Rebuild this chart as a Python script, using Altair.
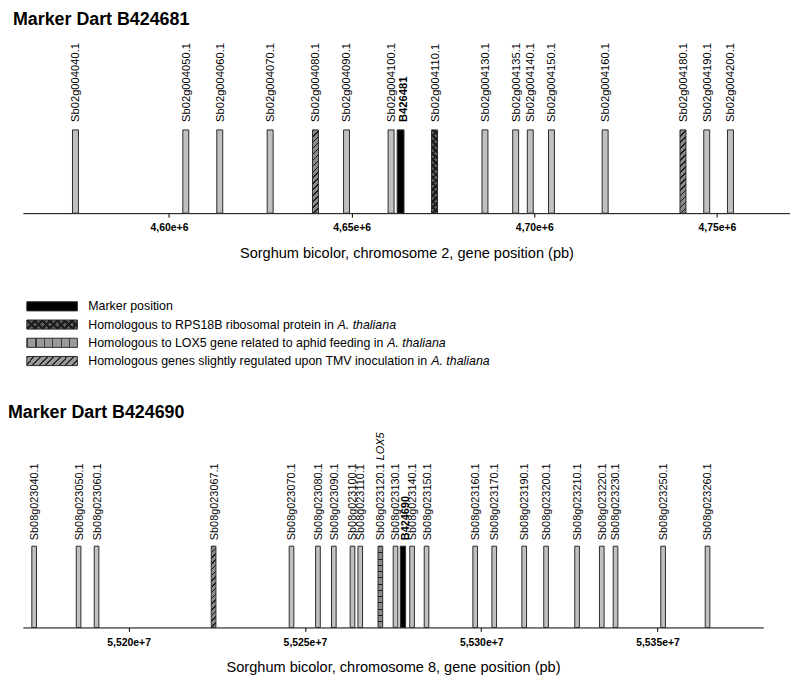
import altair as alt
import pandas as pd

FONT = "Liberation Sans, Arial, Helvetica, sans-serif"

# ---------------- data ----------------
top_title = "Marker Dart B424681"
top_genes = ["Sb02g004040.1", "Sb02g004050.1", "Sb02g004060.1", "Sb02g004070.1",
             "Sb02g004080.1", "Sb02g004090.1", "Sb02g004100.1", "B426481",
             "Sb02g004110.1", "Sb02g004130.1", "Sb02g004135.1", "Sb02g004140.1",
             "Sb02g004150.1", "Sb02g004160.1", "Sb02g004180.1", "Sb02g004190.1",
             "Sb02g004200.1"]
top_pos = [4574400, 4604600, 4613900, 4627700, 4640100, 4648600, 4660800, 4663400,
           4672700, 4686500, 4694900, 4698900, 4704700, 4719400, 4740700, 4747200,
           4753700]
top_type = ["gene", "gene", "gene", "gene", "tmv", "gene", "gene", "marker",
            "rps18b", "gene", "gene", "gene", "gene", "gene", "tmv", "gene", "gene"]
top_note = [""] * 17

bottom_title = "Marker Dart B424690"
bottom_genes = ["Sb08g023040.1", "Sb08g023050.1", "Sb08g023060.1", "Sb08g023067.1",
                "Sb08g023070.1", "Sb08g023080.1", "Sb08g023090.1", "Sb08g023100.1",
                "Sb08g023110.1", "Sb08g023120.1", "Sb08g023130.1", "B424690",
                "Sb08g023140.1", "Sb08g023150.1", "Sb08g023160.1", "Sb08g023170.1",
                "Sb08g023190.1", "Sb08g023200.1", "Sb08g023210.1", "Sb08g023220.1",
                "Sb08g023230.1", "Sb08g023250.1", "Sb08g023260.1"]
bottom_pos = [55173200, 55185800, 55190900, 55224100, 55246200, 55253700, 55258200,
              55263500, 55265700, 55271400, 55275700, 55277800, 55280400, 55284500,
              55298300, 55303700, 55312200, 55318400, 55327200, 55334200, 55338100,
              55351600, 55364200]
bottom_type = ["gene", "gene", "gene", "tmv", "gene", "gene", "gene", "gene", "gene",
               "lox5", "gene", "marker", "gene", "gene", "gene", "gene", "gene", "gene",
               "gene", "gene", "gene", "gene", "gene"]
bottom_note = [""] * 9 + ["LOX5"] + [""] * 13

top_ticks = [4.60e6, 4.65e6, 4.70e6, 4.75e6]
bottom_ticks = [5.520e7, 5.525e7, 5.530e7, 5.535e7]

legend_keys = ["marker", "rps18b", "lox5", "tmv"]
legend_text = ["Marker position",
               "Homologous to RPS18B ribosomal protein in",
               "Homologous to LOX5 gene related to aphid feeding in",
               "Homologous genes slightly regulated upon TMV inoculation in"]
legend_italic = ["", "A. thaliana", "A. thaliana", "A. thaliana"]

# ---------------- style helpers ----------------
ARIAL_W = {' ': 278, '.': 278, ',': 278, '(': 333, ')': 333, '+': 584}
for c in "0123456789":
    ARIAL_W[c] = 556
ARIAL_W.update(dict(zip("ABCDEFGHIJKLMNOPQRSTUVWXYZ",
    [667, 667, 722, 722, 667, 611, 778, 722, 278, 500, 667, 556, 833, 722, 778, 667,
     778, 722, 667, 611, 722, 667, 944, 667, 667, 611])))
ARIAL_W.update(dict(zip("abcdefghijklmnopqrstuvwxyz",
    [556, 556, 500, 556, 556, 278, 556, 556, 222, 222, 500, 222, 833, 556, 556, 556,
     556, 333, 500, 278, 556, 500, 722, 500, 500, 500])))


def text_w(s, size):
    return sum(ARIAL_W.get(c, 556) for c in s) * size / 1000.0


def stripes(n, base, line, frac):
    st = []
    for i in range(n):
        a, b, c = i / n, (i + frac) / n, (i + 1) / n
        st += [(a, line), (b, line), (b, base), (c, base)]
    return [{"offset": round(o, 5), "color": col} for o, col in st]


def hatch(w, h, n, base, line, frac, direction="/"):
    k = (w + h) / (w * w + h * h)
    if direction == "/":
        x1, y1, x2, y2 = 0, 0, k * w, k * h
    else:
        x1, y1, x2, y2 = 0, 1, k * w, 1 - k * h
    return {"gradient": "linear", "x1": x1, "y1": y1, "x2": round(x2, 5),
            "y2": round(y2, 5), "stops": stripes(n, base, line, frac)}


def lines(n, base, line, frac, vertical_gradient=True):
    if vertical_gradient:
        return {"gradient": "linear", "x1": 0, "y1": 0, "x2": 0, "y2": 1,
                "stops": stripes(n, base, line, frac)}
    return {"gradient": "linear", "x1": 0, "y1": 0, "x2": 1, "y2": 0,
            "stops": stripes(n, base, line, frac)}


GRAY = "#c0c0c0"
STROKE = "#2b2b2b"
CLEAR = "rgba(0,0,0,0)"


def panel(genes, pos, types, notes, domain, ticks, ndec, width, height, bar_px,
          half_w, bar_w_px, title, title_dx, title_y, axis_title, label_size, gap):
    df = pd.DataFrame({"gene": genes, "pos": pos, "type": types, "note": notes})
    ymax = height / bar_px
    base = alt.Chart(df).transform_calculate(
        x0=f"datum.type == 'marker' ? datum.pos - {half_w * 1.15} : datum.pos - {half_w}",
        x1=f"datum.type == 'marker' ? datum.pos + {half_w * 1.15} : datum.pos + {half_w}",
        yb="0", yt="1")
    xscale = alt.Scale(domain=domain, nice=False, zero=False)
    xaxis = alt.Axis(values=ticks, title=axis_title,
                     labelExpr=f"replace(format(datum.value, '.{ndec}e'), '.', ',')")
    yscale = alt.Scale(domain=[0, ymax])
    enc = dict(x=alt.X("x0:Q", scale=xscale, axis=xaxis), x2="x1:Q",
               y=alt.Y("yb:Q", scale=yscale, axis=None), y2="yt:Q")

    layers = []
    fills = {
        "gene": [GRAY],
        "marker": ["#000000"],
        "tmv": [hatch(bar_w_px, bar_px, 15, "#8a8a8a", "#1a1a1a", 0.28, "/")],
        "rps18b": [hatch(bar_w_px, bar_px, 15, "#5a5a5a", "#1c1c1c", 0.4, "/"),
                   hatch(bar_w_px, bar_px, 15, CLEAR, "#1c1c1c", 0.4, "\\")],
        "lox5": [lines(13, "#8c8c8c", "#1a1a1a", 0.16)],
    }
    for t, fl in fills.items():
        if t not in types:
            continue
        for j, f in enumerate(fl):
            layers.append(base.transform_filter(alt.datum.type == t).mark_rect(
                fill=f, stroke=STROKE if j == 0 else CLEAR, strokeWidth=1
            ).encode(**enc))

    tx = dict(x=alt.X("pos:Q", scale=xscale, axis=xaxis),
              y=alt.Y("yt:Q", scale=yscale, axis=None))
    layers.append(base.transform_filter(alt.datum.type != "marker").mark_text(
        angle=270, align="left", baseline="middle", dx=gap, dy=1, font=FONT,
        fontSize=label_size, color="black").encode(text="gene:N", **tx))
    layers.append(base.transform_filter(alt.datum.type == "marker").mark_text(
        angle=270, align="left", baseline="middle", dx=gap, dy=3, font=FONT,
        fontSize=label_size, fontWeight="bold", color="black").encode(text="gene:N", **tx))
    if any(notes):
        off = gap + text_w(genes[0], label_size) + text_w(" ", label_size)
        layers.append(base.transform_filter(alt.datum.note != "").mark_text(
            angle=270, align="left", baseline="middle", dx=off, dy=1, font=FONT,
            fontSize=label_size, fontStyle="italic", color="black").encode(
            text="note:N", **tx))

    tdf = pd.DataFrame({"t": [title]})
    layers.append(alt.Chart(tdf).mark_text(
        align="left", baseline="top", font=FONT, fontSize=18, fontWeight="bold",
        color="black").encode(x=alt.value(title_dx), y=alt.value(title_y), text="t:N"))

    return alt.layer(*layers).properties(width=width, height=height)


# top panel: plot area from page y=32 to 212
top = panel(top_genes, top_pos, top_type, top_note, [4.560e6, 4.770e6], top_ticks, 2,
            774, 180, 84, 814, 6.0, top_title, -10, -24,
            "Sorghum bicolor, chromosome 2, gene position (pb)", 11.3, 8)
# bottom panel: plot area from page y=432 to 628
bottom = panel(bottom_genes, bottom_pos, bottom_type, bottom_note, [5.5170e7, 5.5380e7],
               bottom_ticks, 3, 747, 196, 82, 660, 4.7, bottom_title, -15, -29,
               "Sorghum bicolor, chromosome 8, gene position (pb)", 11, 6)

# ---------------- legend ----------------
LEG_H = 145
ROW_PX = 18.4
FIRST = 46
LEG_FS = 12.5
ldf = pd.DataFrame({"key": legend_keys, "text": legend_text, "ital": legend_italic,
                    "row": list(range(len(legend_keys)))})
lbase = alt.Chart(ldf).transform_calculate(r0="datum.row - 0.25", r1="datum.row + 0.25")
ly = alt.Scale(domain=[-FIRST / ROW_PX, (LEG_H - FIRST) / ROW_PX], reverse=True)
SW_W, SW_H = 51, 9
leg_fills = {
    "marker": ["#000000"],
    "rps18b": [hatch(SW_W, SW_H, 8, "#5a5a5a", "#1c1c1c", 0.4, "/"),
               hatch(SW_W, SW_H, 8, CLEAR, "#1c1c1c", 0.4, "\\")],
    "lox5": [lines(6, "#9a9a9a", "#3a3a3a", 0.15, vertical_gradient=False)],
    "tmv": [hatch(SW_W, SW_H, 9, "#9a9a9a", "#2a2a2a", 0.3, "/")],
}
leg_layers = []
for key, fl in leg_fills.items():
    for j, f in enumerate(fl):
        leg_layers.append(lbase.transform_filter(alt.datum.key == key).mark_rect(
            fill=f, stroke=STROKE if j == 0 else CLEAR, strokeWidth=1).encode(
            x=alt.value(4), x2=alt.value(4 + SW_W),
            y=alt.Y("r0:Q", scale=ly, axis=None), y2="r1:Q"))
leg_layers.append(lbase.mark_text(align="left", baseline="middle", font=FONT,
                                  fontSize=LEG_FS, color="black").encode(
    x=alt.value(66), y=alt.Y("row:Q", scale=ly, axis=None), text="text:N"))
for i, (t, it) in enumerate(zip(legend_text, legend_italic)):
    if it:
        leg_layers.append(lbase.transform_filter(alt.datum.row == i).mark_text(
            align="left", baseline="middle", font=FONT, fontSize=LEG_FS,
            fontStyle="italic", color="black", dx=text_w(t + " ", LEG_FS)).encode(
            x=alt.value(66), y=alt.Y("row:Q", scale=ly, axis=None), text="ital:N"))
legend = alt.layer(*leg_layers).properties(width=774, height=LEG_H)

chart = alt.vconcat(top, legend, bottom, spacing=0).properties(
    padding={"left": 0, "top": 0, "right": 0, "bottom": 0}
).configure_view(stroke=None).configure_axis(
    grid=False, domainColor="black", domainWidth=1, tickColor="black", tickSize=4,
    labelFont=FONT, labelFontSize=10.5, labelFontWeight="bold", labelColor="black",
    labelPadding=6, titleFont=FONT, titleFontSize=14.7, titleFontWeight="normal",
    titleColor="black", titlePadding=12
).configure_concat(spacing=0)

chart.save("out.html", embed_options={"renderer": "svg", "actions": False})
